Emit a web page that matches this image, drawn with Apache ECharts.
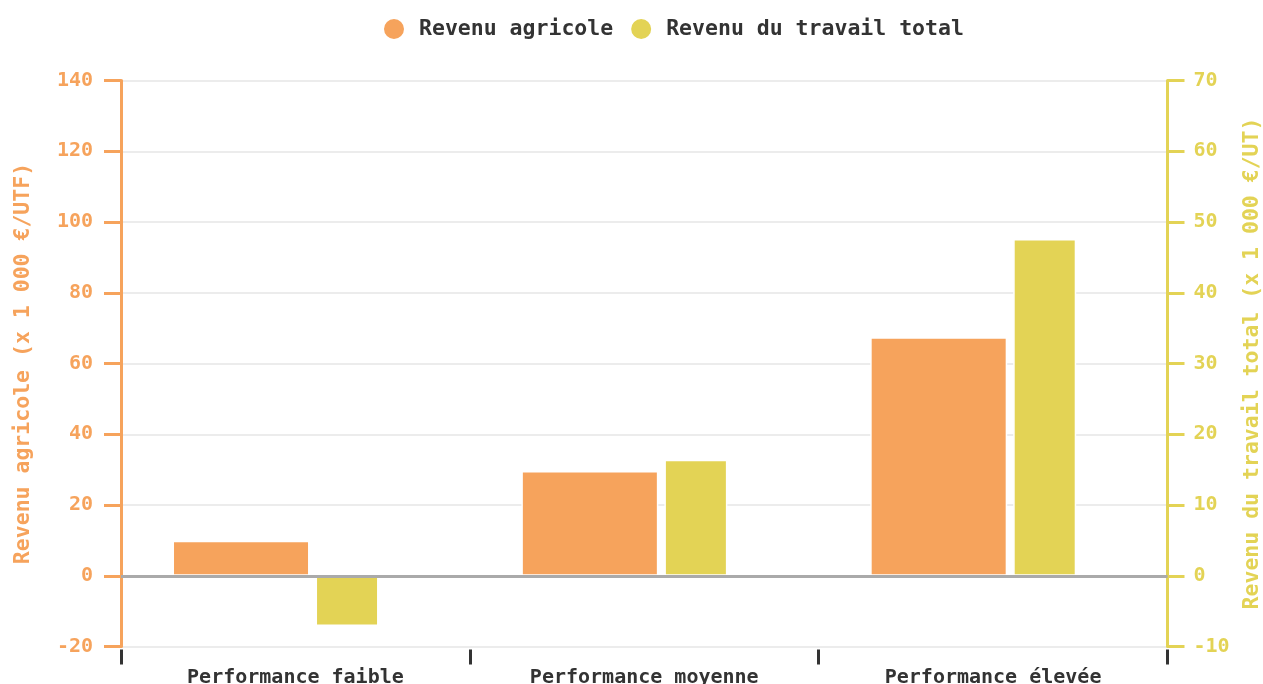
<!DOCTYPE html>
<html>
<head>
<meta charset="utf-8">
<script src="https://cdn.jsdelivr.net/npm/echarts@6/dist/echarts.min.js"></script>
<style>
  html, body { margin: 0; padding: 0; background: #fff; overflow: hidden; }
  #chart { width: 1263px; height: 684px; }
</style>
</head>
<body>
<div id="chart"></div>
<script>
const categories = ['Performance faible', 'Performance moyenne', 'Performance élevée']
const revenuAgricole = [9.9, 29.6, 67.4]
const revenuTravail = [-7.1, 16.4, 47.6]
const leftTicks = { min: -20, max: 140, interval: 20 }
const rightTicks = { min: -10, max: 70, interval: 10 }

const orange = '#F6A35C'
const yellow = '#E3D355'
const font = 'DejaVu Sans Mono'

const chart = echarts.init(document.getElementById('chart'), null, { width: 1263, height: 684 })

chart.setOption({
  animation: false,
  textStyle: { fontFamily: font },
  legend: {
    data: ['Revenu agricole', 'Revenu du travail total'],
    left: 377,
    top: 12,
    icon: 'circle',
    itemWidth: 40,
    itemHeight: 22,
    itemGap: 16,
    textStyle: { fontFamily: font, fontWeight: 'bold', fontSize: 21.5, color: '#333' }
  },
  // v6 would shrink the grid to fit the labels, keep it where the original has it
  grid: { left: 121, right: 95.5, top: 80.5, bottom: 37.5, outerBoundsMode: 'none', containLabel: false },
  xAxis: {
    type: 'category',
    data: categories,
    offset: 3,
    axisLine: { show: false, onZero: false },
    axisTick: { show: true, length: 15, lineStyle: { color: '#333', width: 3 } },
    axisLabel: { margin: 18, color: '#333', fontFamily: font, fontWeight: 'bold', fontSize: 20 },
    splitLine: { show: false }
  },
  yAxis: [
    {
      type: 'value',
      ...leftTicks,
      name: 'Revenu agricole (x 1 000 €/UTF)',
      nameLocation: 'middle',
      nameGap: 87,
      nameTextStyle: { color: orange, fontFamily: font, fontWeight: 'bold', fontSize: 21.5 },
      axisLine: { show: true, lineStyle: { color: orange, width: 3 } },
      axisTick: { show: true, length: 17, lineStyle: { color: orange, width: 3 } },
      axisLabel: { margin: 28, color: orange, fontFamily: font, fontWeight: 'bold', fontSize: 20 },
      splitLine: { show: true, lineStyle: { color: '#e6e6e6', width: 1.5 } }
    },
    {
      type: 'value',
      ...rightTicks,
      position: 'right',
      name: 'Revenu du travail total (x 1 000 €/UT)',
      nameLocation: 'middle',
      nameGap: 74,
      nameTextStyle: { color: yellow, fontFamily: font, fontWeight: 'bold', fontSize: 21.5 },
      axisLine: { show: true, lineStyle: { color: yellow, width: 3 } },
      axisTick: { show: true, length: 17, lineStyle: { color: yellow, width: 3 } },
      axisLabel: { margin: 26, color: yellow, fontFamily: font, fontWeight: 'bold', fontSize: 20 },
      splitLine: { show: false }
    }
  ],
  series: [
    {
      name: 'Revenu agricole',
      type: 'bar',
      yAxisIndex: 0,
      data: revenuAgricole,
      barWidth: 137,
      barGap: '4.4%',
      itemStyle: { color: orange, borderColor: '#fff', borderWidth: 1.5 },
      markLine: {
        silent: true,
        symbol: 'none',
        label: { show: false },
        lineStyle: { color: '#aaa', width: 3, type: 'solid' },
        data: [{ yAxis: 0 }]
      }
    },
    {
      name: 'Revenu du travail total',
      type: 'bar',
      yAxisIndex: 1,
      data: revenuTravail,
      barWidth: 63,
      barGap: '4.4%',
      itemStyle: { color: yellow, borderColor: '#fff', borderWidth: 1.5 }
    },
    {
      // empty spacer so the pair sits left of the category centre like the original
      name: 'spacer',
      type: 'bar',
      yAxisIndex: 0,
      data: categories.map(() => null),
      barWidth: 37,
      barGap: '4.4%'
    }
  ]
})
</script>
</body>
</html>
